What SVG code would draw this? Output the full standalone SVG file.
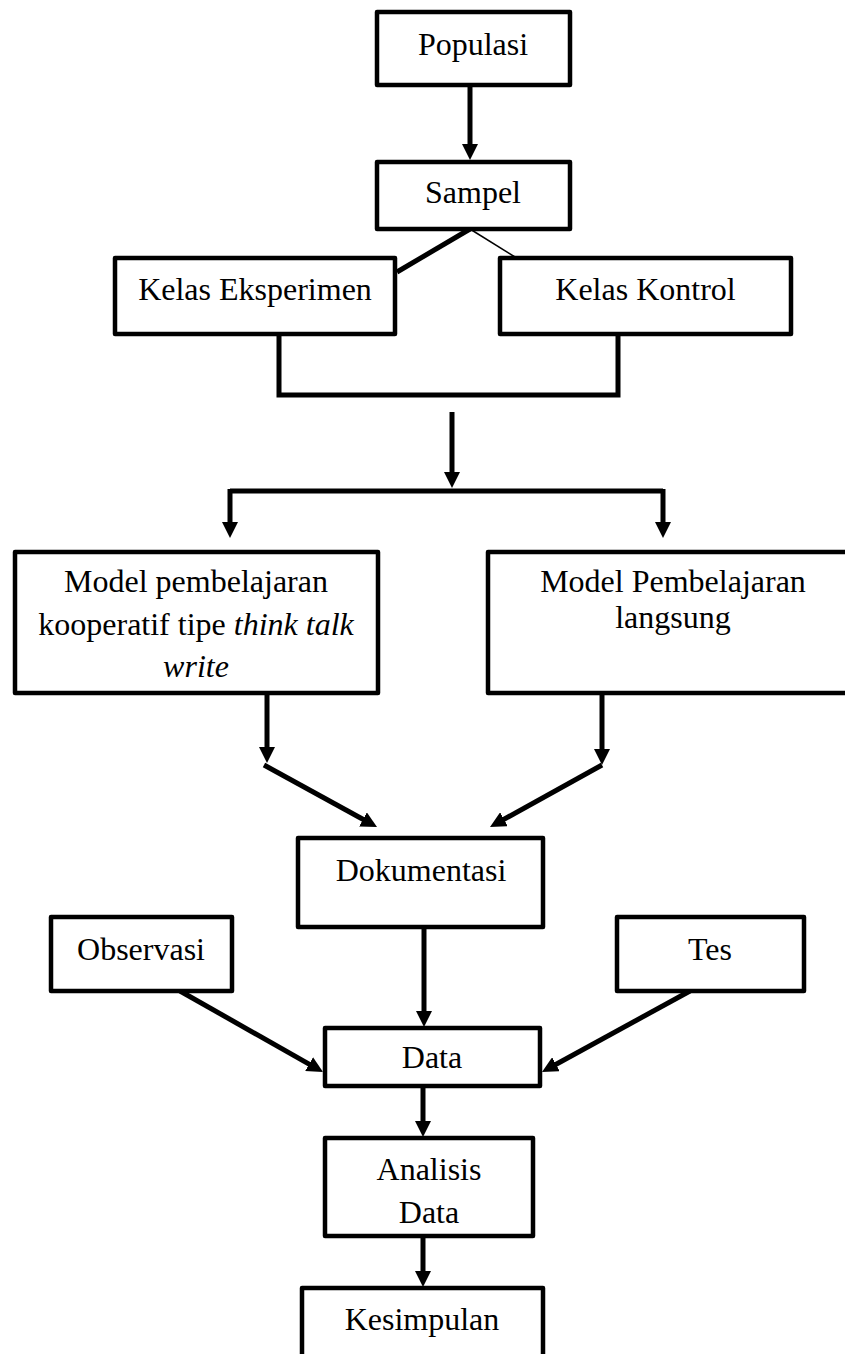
<svg xmlns="http://www.w3.org/2000/svg" width="845" height="1354" viewBox="0 0 845 1354">
<style>
.box{fill:#fff;stroke:#000;stroke-width:4.5;stroke-linejoin:round}
.t{font-family:"Liberation Serif","Times New Roman",serif;font-size:32px;fill:#000;text-anchor:middle}
.c{fill:none;stroke:#000;stroke-width:5}
.a{fill:none;stroke:#000;stroke-width:5;marker-end:url(#ah)}
</style>
<defs>
<marker id="ah" markerUnits="userSpaceOnUse" viewBox="0 0 16 16" markerWidth="16" markerHeight="16" refX="4" refY="8" orient="auto">
<path d="M0,0 L16,8 L0,16 z" fill="#000"/>
</marker>
</defs>
<rect width="845" height="1354" fill="#fff"/>
<g id="connectors">
<line class="a" x1="470" y1="85" x2="470" y2="148"/>
<line class="c" x1="470" y1="229" x2="397" y2="272"/>
<line x1="470" y1="229" x2="515" y2="257" stroke="#000" stroke-width="1.5"/>
<path class="c" d="M279,333 V395 H618 V333" stroke-width="4.5"/>
<line class="a" x1="452" y1="412" x2="452" y2="476"/>
<line class="c" x1="230" y1="491" x2="663" y2="491"/>
<line class="a" x1="230" y1="489" x2="230" y2="526"/>
<line class="a" x1="663" y1="489" x2="663" y2="526"/>
<line class="a" x1="267" y1="693" x2="267" y2="751"/>
<line class="a" x1="264" y1="765" x2="366.5" y2="821.3"/>
<line class="a" x1="602" y1="693" x2="602" y2="753"/>
<line class="a" x1="602" y1="765" x2="500.5" y2="821.2"/>
<line class="a" x1="424" y1="927" x2="424" y2="1015"/>
<line class="a" x1="180" y1="991" x2="312.6" y2="1066.1"/>
<line class="a" x1="690" y1="991" x2="552.5" y2="1066.2"/>
<line class="a" x1="423" y1="1086" x2="423" y2="1125"/>
<line class="a" x1="423" y1="1236" x2="423" y2="1275"/>
</g>
<g id="populasi">
<rect class="box" x="377" y="12" width="193" height="73"/>
<text class="t" x="473" y="55">Populasi</text>
</g>
<g id="sampel">
<rect class="box" x="377" y="162" width="193" height="67"/>
<text class="t" x="473" y="203">Sampel</text>
</g>
<g id="kelas-eksperimen">
<rect class="box" x="115" y="258" width="280" height="76"/>
<text class="t" x="255" y="300">Kelas Eksperimen</text>
</g>
<g id="kelas-kontrol">
<rect class="box" x="500" y="258" width="291" height="76"/>
<text class="t" x="645.5" y="300">Kelas Kontrol</text>
</g>
<g id="model-ttw">
<rect class="box" x="15" y="552" width="363" height="141"/>
<text class="t" x="196" y="592">Model pembelajaran</text>
<text class="t" x="196" y="635">kooperatif tipe <tspan font-style="italic">think talk</tspan></text>
<text class="t" x="196" y="677" font-style="italic">write</text>
</g>
<g id="model-langsung">
<rect class="box" x="488" y="552" width="370" height="141"/>
<text class="t" x="673" y="592">Model Pembelajaran</text>
<text class="t" x="673" y="628">langsung</text>
</g>
<g id="dokumentasi">
<rect class="box" x="298" y="838" width="245" height="89"/>
<text class="t" x="421" y="881">Dokumentasi</text>
</g>
<g id="observasi">
<rect class="box" x="51" y="917" width="181" height="74"/>
<text class="t" x="141" y="960">Observasi</text>
</g>
<g id="tes">
<rect class="box" x="617" y="917" width="187" height="74"/>
<text class="t" x="710" y="960">Tes</text>
</g>
<g id="data">
<rect class="box" x="325" y="1028" width="215" height="58"/>
<text class="t" x="432" y="1068">Data</text>
</g>
<g id="analisis-data">
<rect class="box" x="325" y="1138" width="208" height="98"/>
<text class="t" x="429" y="1180">Analisis</text>
<text class="t" x="429" y="1223">Data</text>
</g>
<g id="kesimpulan">
<rect class="box" x="302" y="1288" width="241" height="80"/>
<text class="t" x="422" y="1330">Kesimpulan</text>
</g>
</svg>
